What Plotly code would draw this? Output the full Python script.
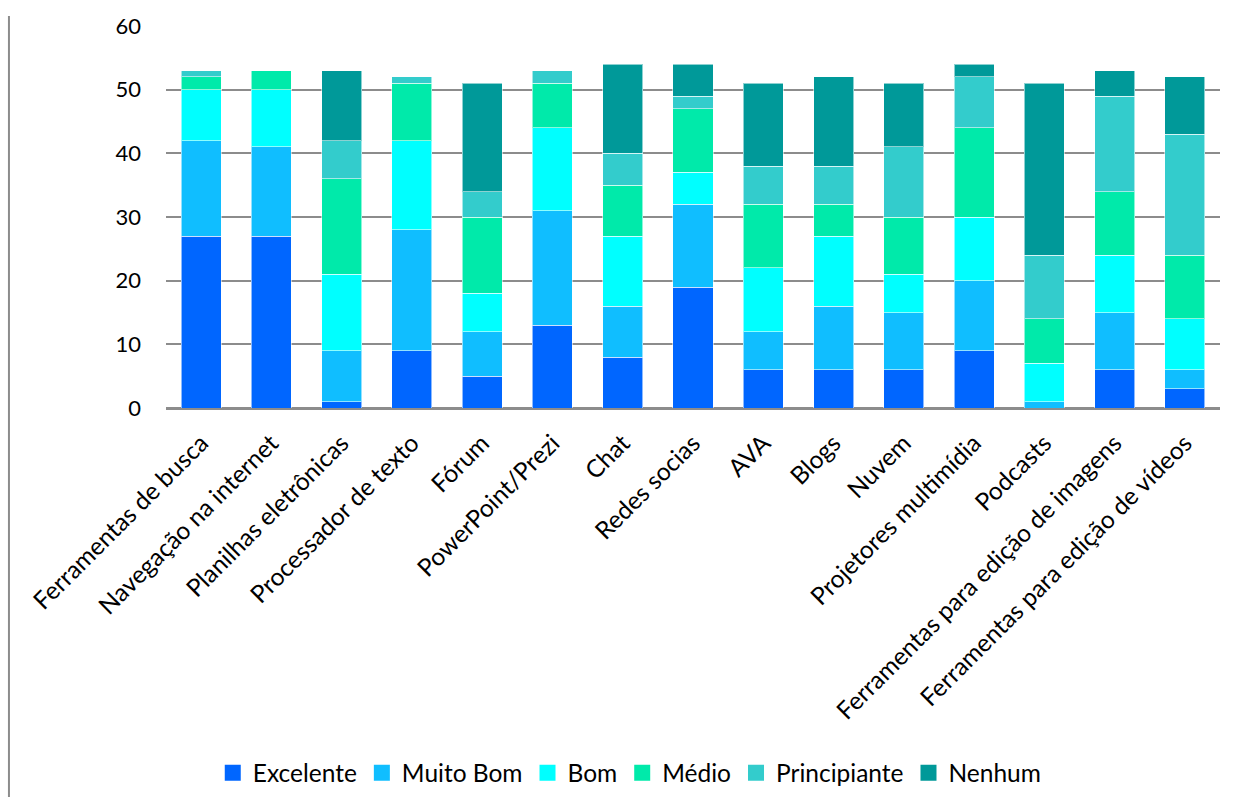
import plotly.graph_objects as go

categorias = [
    "Ferramentas de busca", "Navegação na internet", "Planilhas eletrônicas",
    "Processador de texto", "Fórum", "PowerPoint/Prezi", "Chat", "Redes socias",
    "AVA", "Blogs", "Nuvem", "Projetores multimídia", "Podcasts",
    "Ferramentas para edição de imagens", "Ferramentas para edição de vídeos",
]

excelente    = [27, 27, 1, 9, 5, 13, 8, 19, 6, 6, 6, 9, 0, 6, 3]
muito_bom    = [15, 14, 8, 19, 7, 18, 8, 13, 6, 10, 9, 11, 1, 9, 3]
bom          = [8, 9, 12, 14, 6, 13, 11, 5, 10, 11, 6, 10, 6, 9, 8]
medio        = [2, 3, 15, 9, 12, 7, 8, 10, 10, 5, 9, 14, 7, 10, 10]
principiante = [1, 0, 6, 1, 4, 2, 5, 2, 6, 6, 11, 8, 10, 15, 19]
nenhum       = [0, 0, 11, 0, 17, 0, 14, 5, 13, 14, 10, 2, 27, 4, 9]

series = [
    ("Excelente", excelente, "#0066FF"),
    ("Muito Bom", muito_bom, "#10BEFF"),
    ("Bom", bom, "#00FFFF"),
    ("Médio", medio, "#00EAAA"),
    ("Principiante", principiante, "#33CCCC"),
    ("Nenhum", nenhum, "#009999"),
]

FONT = "Lato, Calibri, Carlito, sans-serif"

fig = go.Figure()
for nome, valores, cor in series:
    fig.add_trace(go.Bar(
        x=categorias, y=valores, name=nome, legendgroup=nome, showlegend=False,
        marker=dict(color=cor, line=dict(color="rgba(255,255,255,0.55)", width=1)),
    ))

# legend keys drawn as larger solid squares
for nome, _, cor in series:
    fig.add_trace(go.Scatter(
        x=[None], y=[None], mode="markers", name=nome, legendgroup=nome,
        marker=dict(symbol="square", size=17, color=cor),
    ))

fig.update_layout(
    barmode="stack",
    bargap=0.43,
    width=1233, height=807,
    margin=dict(l=166, r=13, t=23, b=399),
    plot_bgcolor="white", paper_bgcolor="white",
    font=dict(family=FONT, size=22, color="black"),
    xaxis=dict(
        tickangle=-45, tickfont=dict(size=24.5), showgrid=False,
        showline=False, ticks="", range=[-0.5, 14.5], ticklabelstandoff=15,
    ),
    yaxis=dict(
        range=[0, 60], dtick=10, showgrid=True, gridcolor="#8C8C8C", gridwidth=2,
        zeroline=True, zerolinecolor="#8C8C8C", zerolinewidth=3,
        showline=False, ticks="", tickfont=dict(size=22), ticklabelstandoff=24,
    ),
    legend=dict(
        orientation="h", x=0.44, xanchor="center", y=-0.955, yanchor="middle",
        font=dict(size=24.5), traceorder="normal", itemwidth=30,
    ),
    shapes=[dict(
        type="line", xref="paper", yref="paper",
        x0=-0.149, x1=-0.149, y0=1.026, y1=-1.018,
        line=dict(color="#8C8C8C", width=2),
    )],
)

fig.write_html("out.html")
